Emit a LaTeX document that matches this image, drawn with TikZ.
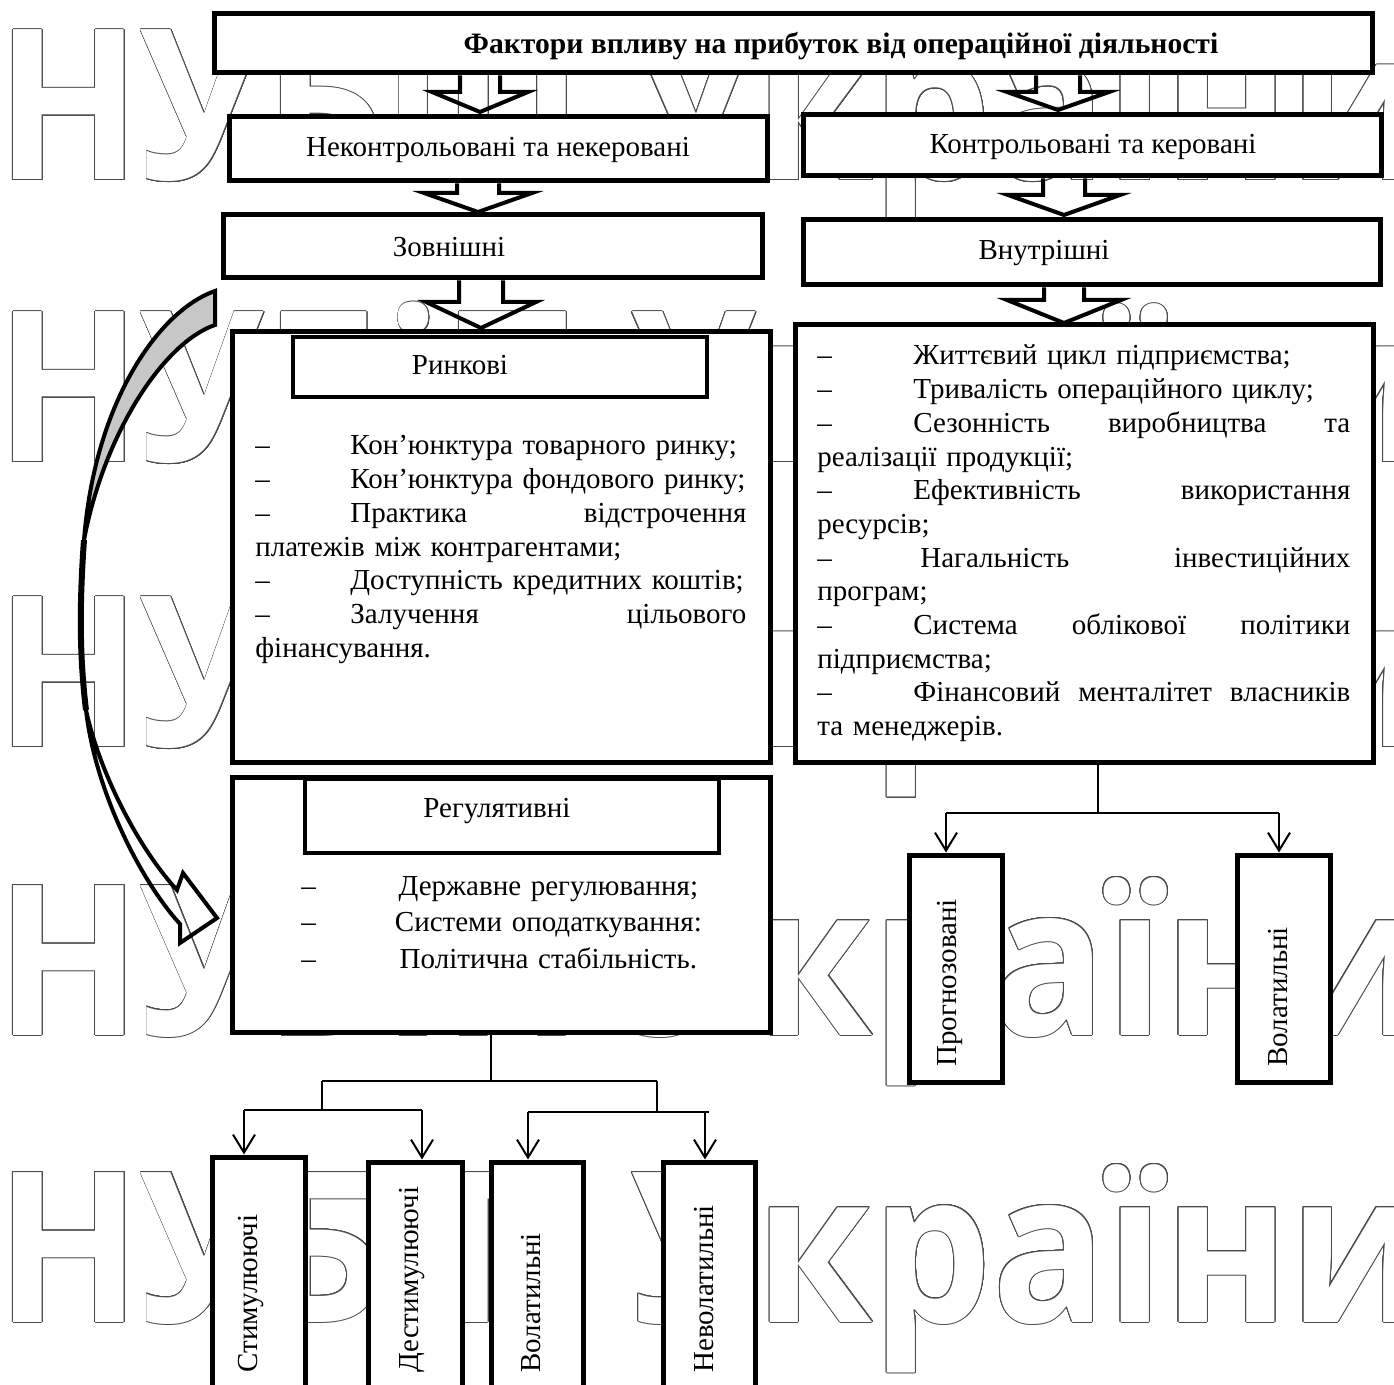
\documentclass[tikz,border=0pt]{standalone}
\usepackage{fontspec}
\usepackage{graphicx}
\usepackage{contour}
\contourlength{0.5pt}
\contournumber{24}
\setmainfont{Liberation Serif}
\newfontfamily\wmfont{Open Sans}
\usetikzlibrary{fit,arrows.meta}

\newcommand{\fatarrow}[6]{% #1 node above, #2 centre x, #3 shaft half width, #4 head half width, #5 head y, #6 tip y
  \draw[blk] (#2-#3,0 |- #1.south) -- (#2-#3,#5) -- (#2-#4,#5) -- (#2,#6) -- (#2+#4,#5) -- (#2+#3,#5) -- (#2+#3,0 |- #1.south);}

\begin{document}
\begin{tikzpicture}[x=0.5pt,y=-0.5pt,
  box/.style={draw, line width=2.5pt, fill=white, inner sep=0pt},
  hdbox/.style={draw, line width=2.2pt, fill=white, inner sep=0pt},
  txt/.style={inner sep=0pt, font=\fontsize{14.5}{16.85}\selectfont},
  rot/.style={txt, rotate=90, anchor=west},
  conn/.style={line width=1pt},
  arr/.style={line width=1pt, -{Straight Barb[length=9pt,width=11pt,line width=1pt]}},
  blk/.style={line width=2pt, line join=miter},
  wm/.style={inner sep=0pt, anchor=base west, text=white,
    font=\wmfont\bfseries\fontsize{105}{105}\selectfont},
]
\useasboundingbox (0,0) rectangle (1394,1385);
\clip (0,0) rectangle (1394,1385);

% watermark
\foreach \yy/\nm in {180/wa,462/wb,747/wc,1035/wd,1322/we}
  \node[wm] (\nm) at (-4,\yy) {\scalebox{0.9}[1]{\contour{black!70}{НУБіП України}}};

% boxes
\node[box, fit={(214,14) (1372,73)}] (title) {};
\node[box, fit={(229,117) (767,181)}] (nk) {};
\node[box, fit={(223,215) (762,278)}] (zov) {};
\node[box, fit={(232,332) (770,763)}] (rynk) {};
\node[hdbox, fit={(293,337) (707,397)}] (rynkh) {};
\node[box, fit={(232,778) (770,1032)}] (reg) {};
\node[hdbox, fit={(305,779) (719,853)}] (regh) {};
\node[box, fit={(803,115) (1381,176)}] (kont) {};
\node[box, fit={(803,220) (1380,285)}] (vnut) {};
\node[box, fit={(795,325) (1373,763)}] (vlist) {};
\node[box, fit={(909,855) (1002,1082)}] (prog) {};
\node[box, fit={(1237,855) (1330,1082)}] (volr) {};
\node[box, fit={(212,1157) (305,1420)}] (stym) {};
\node[box, fit={(368,1162) (462,1420)}] (dest) {};
\node[box, fit={(491,1162) (583,1420)}] (vol) {};
\node[box, fit={(663,1162) (755,1420)}] (nevol) {};

% texts
\node[txt, anchor=base, font=\fontsize{14.8}{16.85}\selectfont\bfseries] (titlet) at (841,54) {Фактори впливу на прибуток від операційної діяльності};
\node[txt, anchor=base] (nkt) at (498,157) {Неконтрольовані та некеровані};
\node[txt, anchor=base] (zovt) at (449,257) {Зовнішні};
\node[txt, anchor=base] (kontt) at (1093,154) {Контрольовані та керовані};
\node[txt, anchor=base] (vnutt) at (1044,260) {Внутрішні};
\node[txt, anchor=base] (rynkt) at (460,375) {Ринкові};
\node[txt, anchor=base] (regt) at (497,818) {Регулятивні};

\node[txt, anchor=base west, text width=245.5pt, align=left] (rlist) at (255,455) {%
\makebox[47.5pt][l]{–}\mbox{Кон’юнктура товарного ринку;}\\
\makebox[47.5pt][l]{–}\mbox{Кон’юнктура фондового ринку;}\\
\makebox[47.5pt][l]{–}Практика\hfill відстрочення\\
платежів між контрагентами;\\
\makebox[47.5pt][l]{–}\mbox{Доступність кредитних коштів;}\\
\makebox[47.5pt][l]{–}Залучення\hfill цільового\\
фінансування.};

\node[txt, anchor=base west, text width=266.5pt, align=left] (vlistt) at (817,365) {%
\makebox[48pt][l]{–}\mbox{Життєвий цикл підприємства;}\\
\makebox[48pt][l]{–}\mbox{Тривалість операційного циклу;}\\
\makebox[48pt][l]{–}Сезонність\hfill виробництва\hfill та\\
реалізації продукції;\\
\makebox[48pt][l]{–}Ефективність\hfill використання\\
ресурсів;\\
\makebox[48pt][l]{–}\hspace{3.5pt}Нагальність\hfill інвестиційних\\
програм;\\
\makebox[48pt][l]{–}Система\hfill облікової\hfill політики\\
підприємства;\\
\makebox[48pt][l]{–}Фінансовий\hfill менталітет\hfill власників\\
та менеджерів.};

\node[txt, anchor=base west, text width=247pt, align=left] (reglist) at (301,895) {%
\leavevmode\rlap{–}\hfill Державне регулювання;\hfill\null\\[1.4pt]
\leavevmode\rlap{–}\hfill Системи оподаткування:\hfill\null\\[1.4pt]
\leavevmode\rlap{–}\hfill Політична стабільність.\hfill\null};

\node[rot] (stymt) at (251,1373) {Стимулюючі};
\node[rot] (destt) at (412,1373) {Дестимулюючі};
\node[rot] (volt) at (531,1373) {Волатильні};
\node[rot] (nevolt) at (704,1373) {Неволатильні};
\node[rot] (progt) at (950,1067) {Прогнозовані};
\node[rot] (volrt) at (1278,1067) {Волатильні};

% block arrows
\fatarrow{title}{480}{20}{48}{92}{112}
\fatarrow{nk}{478}{21}{54}{193}{212}
\fatarrow{zov}{481}{22}{55}{302}{328}
\fatarrow{title}{1058}{22}{51}{92}{110}
\fatarrow{kont}{1064}{21}{56}{195}{215}
\fatarrow{vnut}{1064}{20}{57}{300}{323}

% curved arrow
\draw[line width=2pt, fill=black!22] (215,291) .. controls (160,310) and (95,400) .. (84,540)
   .. controls (105,430) and (165,342) .. (215,325) -- cycle;
\draw[line width=3pt] (84,540) .. controls (79,610) and (80,660) .. (86,710);
\draw[line width=2pt, line join=miter] (86,710) .. controls (95,790) and (140,880) .. (180,924)
   -- (180,943) -- (217,918) -- (183,873) -- (177,890)
   .. controls (140,850) and (100,775) .. (86,710) -- cycle;

% left tree
\coordinate (lj) at (491,1081);
\draw[conn] (491,0 |- reg.south) -- (lj);
\draw[conn] (322,1081) -- (657,1081);
\draw[conn] (322,1081) -- (322,1110);
\draw[conn] (657,1081) -- (657,1112);
\draw[conn] (244,1110) -- (422,1110);
\draw[conn] (528,1112) -- (709,1112);
\draw[arr] (244,1110) -- (244,0 |- stym.north);
\draw[arr] (422,1110) -- (422,0 |- dest.north);
\draw[arr] (528,1112) -- (528,0 |- vol.north);
\draw[arr] (705,1112) -- (705,0 |- nevol.north);

% right tree
\draw[conn] (1098,0 |- vlist.south) -- (1098,813);
\draw[conn] (946,813) -- (1279,813);
\draw[arr] (946,813) -- (946,0 |- prog.north);
\draw[arr] (1279,813) -- (1279,0 |- volr.north);
\end{tikzpicture}
\end{document}
